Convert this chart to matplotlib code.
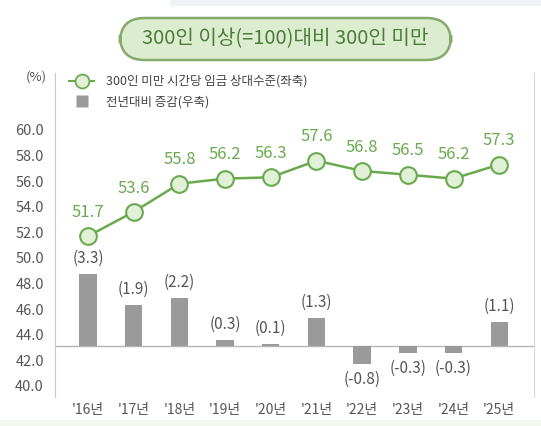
import matplotlib
matplotlib.use("Agg")
import matplotlib.pyplot as plt
from matplotlib.patches import FancyBboxPatch, Rectangle
from matplotlib.lines import Line2D

plt.rcParams['font.family'] = ['Noto Sans CJK KR', 'DejaVu Sans']

years = ["'16년", "'17년", "'18년", "'19년", "'20년", "'21년", "'22년", "'23년", "'24년", "'25년"]
relative_level = [51.7, 53.6, 55.8, 56.2, 56.3, 57.6, 56.8, 56.5, 56.2, 57.3]
yoy_change = [3.3, 1.9, 2.2, 0.3, 0.1, 1.3, -0.8, -0.3, -0.3, 1.1]
left_ticks = [40.0, 42.0, 44.0, 46.0, 48.0, 50.0, 52.0, 54.0, 56.0, 58.0, 60.0]

title = "300인 이상(=100)대비 300인 미만"
line_name = "300인 미만 시간당 임금 상대수준(좌축)"
bar_name = "전년대비 증감(우축)"

GREEN = '#6aaa4e'
GREEN_TXT = '#6aaa4e'
FACE = '#e3f0d8'
BAR = '#9a9a9a'
TXT = '#555555'

fig = plt.figure(figsize=(5.41, 4.26), dpi=100)
W, H = 541, 426

# background decorations
fig.patches.append(Rectangle((170 / W, 1 - 6 / H), 1, 6 / H, transform=fig.transFigure,
                             facecolor='#eef3f6', edgecolor='none', zorder=0))
fig.patches.append(Rectangle((0, 0), 1, 6 / H, transform=fig.transFigure,
                             facecolor='#f3f8ee', edgecolor='none', zorder=0))

ax = fig.add_axes([55 / W, 1 - 397 / H, (534 - 55) / W, (397 - 73) / H])
ax2 = ax.twinx()

x = list(range(len(years)))

# left axis limits
ylo, yhi = 39.14, 64.45
ax.set_ylim(ylo, yhi)
# right axis: 0 aligned at 43.1 on left axis; one right unit spans 22 px, one left unit 12.8 px
zero_left = 43.1
left_per_right = 22.0 / 12.8
ax2.set_ylim((ylo - zero_left) / left_per_right, (yhi - zero_left) / left_per_right)

ax.set_xlim(-0.72, 9.76)

ax2.bar(x, yoy_change, width=0.38, color=BAR, zorder=2)
ax2.axhline(0, color='#b5b5b5', lw=1.0, zorder=1)
for xi, v in zip(x, yoy_change):
    if v >= 0:
        ax2.annotate(f"({v:.1f})", (xi, v), xytext=(0, 5), textcoords='offset points',
                     ha='center', va='bottom', fontsize=11, color=TXT, fontweight='medium')
    else:
        ax2.annotate(f"({v:.1f})", (xi, v), xytext=(0, -5), textcoords='offset points',
                     ha='center', va='top', fontsize=11, color=TXT, fontweight='medium')

ax.set_zorder(ax2.get_zorder() + 1)
ax.patch.set_visible(False)

ax.plot(x, relative_level, color=GREEN, lw=1.8, marker='o', markersize=12,
        markerfacecolor=FACE, markeredgecolor=GREEN, markeredgewidth=1.5, zorder=3)
for xi, v in zip(x, relative_level):
    ax.annotate(f"{v:.1f}", (xi, v), xytext=(0, 11), textcoords='offset points',
                ha='center', va='bottom', fontsize=12, color=GREEN_TXT, fontweight='medium')

ax.set_yticks(left_ticks)
ax.set_yticklabels([f"{t:.1f}" for t in left_ticks])
ax.set_xticks(x)
ax.set_xticklabels(years)
ax.tick_params(axis='y', length=0, pad=8, labelsize=10.5, labelcolor=TXT)
ax.tick_params(axis='x', length=0, pad=4, labelsize=10, labelcolor=TXT)
ax2.set_yticks([])
ax2.tick_params(length=0)

for a in (ax, ax2):
    a.spines['top'].set_visible(False)
    a.spines['bottom'].set_visible(False)
    a.spines['left'].set_color('#c8c8c8')
    a.spines['right'].set_color('#d8d8d8')
ax2.spines['left'].set_visible(False)
ax.spines['right'].set_visible(False)

fig.text(36 / W, 1 - 77 / H, "(%)", ha='center', va='center', fontsize=9.5, color=TXT)

handles = [
    Line2D([0], [0], color=GREEN, lw=1.5, marker='o', markersize=10,
           markerfacecolor=FACE, markeredgecolor=GREEN, markeredgewidth=1.3),
    Line2D([0], [0], color='none', marker='s', markersize=9,
           markerfacecolor=BAR, markeredgecolor='none'),
]
leg = fig.legend(handles, [line_name, bar_name], loc='upper left',
                 bbox_to_anchor=(64 / W, 1 - 70 / H), frameon=False, fontsize=9,
                 handlelength=2.0, handletextpad=1.0, labelspacing=0.6, borderaxespad=0)
for t in leg.get_texts():
    t.set_color('#444444')

# title box
bx0, bx1, by0, by1 = 120 / W, 451 / W, 1 - 60 / H, 1 - 18 / H
box = FancyBboxPatch((bx0, by0), bx1 - bx0, by1 - by0,
                     boxstyle="round,pad=0,rounding_size=0.045",
                     transform=fig.transFigure, facecolor='#dcecce', edgecolor='#86a96c',
                     lw=1.8, mutation_aspect=W / H)
fig.patches.append(box)
fig.text((bx0 + bx1) / 2, (by0 + by1) / 2, title, ha='center', va='center',
         fontsize=14.5, color='#4b7c3a', fontweight='medium')

fig.savefig('out.png', dpi=100)
